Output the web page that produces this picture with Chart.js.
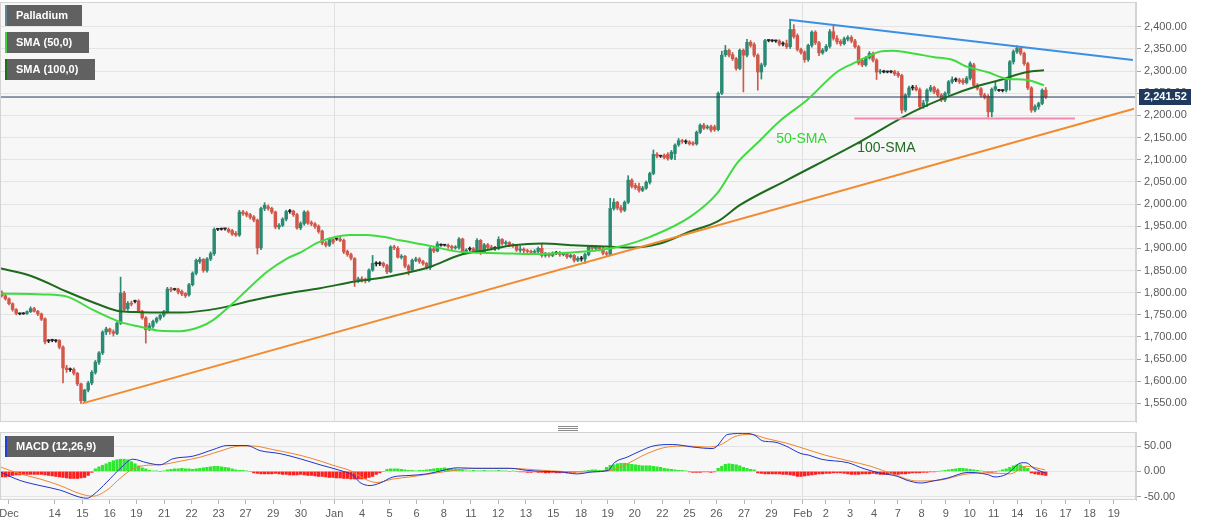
<!DOCTYPE html>
<html lang="en">
<head>
<meta charset="UTF-8">
<title>Palladium</title>
<style>
body { margin: 0; background: #fff; }
#wrap { position: relative; width: 1207px; height: 526px; }
#mainBox { position: absolute; left: 0; top: 0; width: 1207px; height: 426px; }
#macdBox { position: absolute; left: 0; top: 426px; width: 1207px; height: 100px; }
</style>
</head>
<body>
<div id="wrap">
  <div id="mainBox"><canvas id="mainChart"></canvas></div>
  <div id="macdBox"><canvas id="macdChart"></canvas></div>
</div>
<script src="https://cdn.jsdelivr.net/npm/chart.js"></script>
<script>
// 4h candles, index 0 = first candle on the left
const opens = [
1800,1793,1786,1775,1762,1753,1752,1753,1757,1764,
1758,1752,1741,1691,1692,1692,1692,1677,1630,1626,
1627,1618,1594,1556,1580,1596,1620,1643,1664,1711,
1718,1712,1708,1731,1799,1764,1776,1780,1781,1758,
1743,1718,1724,1735,1742,1749,1757,1808,1807,1808,
1803,1798,1795,1818,1844,1870,1875,1850,1876,1888,
1943,1943,1944,1943,1940,1934,1930,1982,1980,1976,
1971,1964,1901,1990,1994,1990,1982,1948,1952,1966,
1983,1984,1976,1946,1956,1982,1958,1955,1950,1939,
1912,1907,1920,1921,1921,1918,1893,1886,1877,1828,
1831,1829,1827,1851,1866,1865,1866,1861,1847,1903,
1900,1880,1882,1860,1851,1873,1876,1870,1866,1857,
1899,1894,1908,1907,1907,1904,1901,1902,1921,1893,
1898,1899,1892,1918,1892,1908,1903,1900,1900,1920,
1911,1913,1908,1906,1896,1898,1895,1893,1891,1893,
1900,1884,1887,1884,1889,1890,1886,1888,1881,1884,
1873,1877,1876,1886,1903,1900,1902,1898,1889,1887,
1990,2004,1992,1986,2004,2054,2042,2040,2031,2036,
2049,2069,2112,2108,2110,2112,2103,2114,2134,2143,
2141,2140,2138,2136,2162,2178,2172,2175,2174,2168,
2250,2337,2347,2337,2328,2306,2347,2336,2365,2360,
2336,2298,2314,2369,2369,2368,2368,2361,2362,2355,
2394,2380,2349,2343,2326,2358,2388,2364,2341,2347,
2356,2389,2374,2367,2362,2372,2376,2368,2355,2324,
2314,2330,2340,2325,2298,2299,2298,2299,2299,2295,
2290,2212,2246,2262,2263,2258,2222,2232,2257,2263,
2257,2246,2235,2250,2276,2281,2280,2279,2274,2284,
2314,2268,2260,2246,2243,2208,2259,2257,2256,2257,
2281,2321,2344,2352,2340,2317,2262,2212,2220,2227,2257
];
const highs = [
1804,1796,1788,1777,1764,1754,1755,1759,1768,1767,
1760,1754,1743,1694,1695,1694,1694,1680,1636,1630,
1630,1620,1596,1582,1600,1624,1647,1667,1714,1722,
1720,1716,1734,1835,1803,1780,1781,1783,1784,1760,
1746,1731,1738,1745,1751,1760,1812,1812,1810,1810,
1806,1800,1821,1847,1876,1880,1877,1879,1892,1946,
1945,1946,1945,1946,1943,1938,1986,1986,1983,1979,
1974,1966,1993,2003,1998,1993,1984,1956,1969,1986,
1988,1986,1979,1960,1985,1985,1962,1958,1953,1941,
1916,1923,1922,1923,1925,1921,1896,1889,1879,1835,
1836,1833,1854,1884,1870,1870,1869,1864,1906,1907,
1904,1886,1884,1863,1876,1880,1879,1873,1868,1902,
1903,1915,1910,1909,1910,1907,1906,1924,1923,1899,
1903,1902,1922,1920,1911,1911,1907,1904,1926,1922,
1917,1915,1911,1909,1905,1901,1898,1896,1897,1903,
1911,1891,1890,1892,1893,1893,1891,1891,1887,1886,
1881,1882,1889,1906,1907,1906,1905,1904,1893,2013,
2012,2006,1997,2007,2064,2057,2047,2047,2040,2052,
2072,2122,2116,2110,2113,2116,2121,2136,2148,2146,
2145,2143,2141,2165,2181,2182,2178,2178,2178,2253,
2345,2358,2350,2342,2331,2350,2350,2372,2369,2364,
2339,2318,2372,2371,2371,2370,2371,2366,2370,2416,
2405,2384,2352,2346,2361,2391,2391,2367,2351,2360,
2394,2402,2380,2371,2377,2380,2380,2372,2358,2327,
2333,2344,2343,2328,2304,2302,2300,2301,2302,2299,
2293,2249,2266,2268,2268,2262,2234,2260,2268,2266,
2260,2249,2253,2279,2287,2285,2284,2283,2288,2321,
2318,2272,2263,2250,2247,2262,2276,2259,2258,2284,
2324,2348,2357,2356,2343,2320,2265,2224,2230,2260,2263
];
const lows = [
1790,1783,1772,1758,1750,1750,1751,1751,1755,1756,
1748,1737,1684,1687,1689,1688,1673,1596,1620,1622,
1614,1590,1550,1553,1576,1592,1616,1638,1660,1705,
1706,1702,1705,1728,1758,1760,1770,1777,1755,1740,
1686,1714,1720,1731,1738,1745,1754,1802,1805,1797,
1793,1789,1792,1815,1840,1866,1846,1846,1872,1884,
1940,1941,1941,1935,1929,1927,1927,1974,1971,1966,
1960,1887,1897,1985,1986,1978,1944,1943,1949,1962,
1979,1972,1943,1942,1952,1954,1951,1945,1934,1908,
1903,1904,1910,1918,1915,1888,1882,1874,1814,1823,
1824,1822,1824,1848,1860,1861,1857,1843,1845,1897,
1878,1876,1856,1840,1848,1870,1866,1862,1853,1852,
1890,1892,1905,1905,1900,1897,1898,1898,1889,1888,
1894,1890,1889,1886,1890,1899,1896,1896,1897,1907,
1907,1904,1902,1893,1891,1890,1889,1887,1888,1890,
1880,1880,1880,1881,1886,1882,1883,1877,1878,1869,
1870,1871,1866,1883,1897,1896,1894,1885,1882,1884,
1986,1987,1981,1983,2001,2036,2033,2027,2028,2033,
2045,2066,2104,2105,2102,2099,2100,2100,2130,2137,
2136,2133,2132,2133,2159,2168,2169,2163,2164,2165,
2247,2333,2332,2324,2302,2303,2253,2332,2354,2332,
2257,2282,2310,2366,2366,2365,2357,2357,2351,2351,
2374,2345,2338,2320,2322,2354,2360,2335,2338,2344,
2352,2370,2361,2357,2359,2368,2364,2352,2314,2310,
2311,2327,2321,2281,2294,2296,2296,2296,2290,2286,
2205,2208,2242,2257,2255,2214,2216,2220,2253,2249,
2242,2231,2231,2246,2272,2276,2272,2270,2271,2280,
2264,2257,2242,2237,2196,2197,2255,2254,2253,2253,
2257,2316,2340,2336,2313,2258,2207,2208,2214,2224,2238
];
const closes = [
1793,1786,1775,1762,1753,1752,1753,1757,1764,1758,
1752,1740,1689,1692,1692,1691,1677,1630,1626,1627,
1618,1594,1556,1580,1596,1620,1643,1664,1711,1718,
1712,1708,1731,1799,1762,1776,1774,1780,1758,1743,
1716,1725,1735,1742,1749,1757,1808,1806,1807,1801,
1797,1793,1818,1844,1873,1875,1850,1876,1888,1943,
1943,1943,1944,1938,1932,1930,1982,1978,1975,1970,
1964,1901,1990,1997,1990,1982,1948,1952,1966,1983,
1984,1976,1946,1956,1982,1957,1955,1949,1938,1912,
1907,1920,1914,1921,1918,1892,1886,1878,1828,1831,
1829,1827,1851,1866,1865,1866,1861,1847,1903,1901,
1880,1882,1860,1851,1873,1876,1870,1866,1858,1899,
1894,1910,1907,1907,1904,1901,1903,1921,1893,1896,
1899,1894,1918,1892,1908,1902,1900,1901,1920,1911,
1913,1908,1906,1896,1898,1895,1893,1891,1893,1900,
1884,1887,1884,1889,1890,1886,1888,1881,1884,1873,
1877,1876,1886,1903,1900,1902,1898,1889,1887,1990,
2004,1991,1986,2004,2054,2040,2037,2031,2036,2049,
2069,2112,2108,2108,2105,2103,2117,2133,2143,2141,
2140,2136,2135,2162,2178,2171,2174,2167,2168,2250,
2336,2347,2336,2328,2306,2347,2336,2365,2358,2336,
2298,2314,2369,2369,2368,2368,2361,2362,2355,2394,
2378,2349,2342,2326,2358,2388,2364,2341,2347,2356,
2389,2374,2366,2362,2373,2376,2368,2355,2318,2314,
2330,2340,2325,2298,2300,2298,2299,2298,2294,2290,
2212,2246,2262,2263,2258,2220,2228,2257,2263,2253,
2246,2235,2250,2276,2281,2280,2276,2274,2284,2317,
2268,2261,2246,2241,2208,2259,2265,2256,2256,2281,
2321,2344,2352,2340,2317,2262,2212,2220,2227,2257,2241.52
];
const lastPrice = 2241.52;

// moving averages (x = candle index)
const sma50Idx = [-0.5,11.4,18.1,25.3,32.8,38.4,43.9,49.5,55.1,58.7,64.2,68.1,73.7,79.2,82.8,88.4,96.7,101.4,105.9,110.6,118.1,127.3,138.4,147.6,157,166.2,172.6,180.1,191.2,198.7,204.2,209.8,216.2,223.7,232,236.4,240.3,243.9,247.6,253.1,258.7,264.2,268.1,273.7,279.2,284.8,289.5];
const sma50 = [1798,1796,1791,1761,1734,1723,1714,1713,1723,1738,1776,1806,1847,1877,1890,1915,1930,1930,1926,1918,1907,1892,1889,1887,1890,1896,1906,1926,1971,2024,2092,2137,2188,2235,2298,2317,2332,2344,2346,2340,2332,2325,2310,2298,2283,2280,2268];
const sma100Idx = [-0.5,8.7,18.1,27.3,32.8,38.4,49.5,60.6,69.8,79.2,88.4,98.1,105.9,118.9,127.3,134.8,142,150.3,158.7,168.1,175.3,182.8,191.2,198.7,205.1,218.1,237.6,253.1,262.6,271.7,277.3,284.8,289.5];
const sma100 = [1855,1836,1802,1772,1758,1756,1755,1765,1783,1798,1810,1825,1834,1858,1885,1896,1907,1911,1907,1904,1902,1911,1938,1960,1998,2054,2137,2208,2242,2268,2280,2298,2302];

// trend lines [start, end]
const resistIdx = [218.7, 314.2];
const resistVal = [2416, 2325];
const supportIdx = [22.4, 314.5];
const supportVal = [1550, 2215];
const floorIdx = [236.8, 298.1];
const floorVal = [2193, 2193];

// MACD (12,26,9)
const macdIdx = [-0.5,5.1,10.6,16.2,21.7,23.7,25.3,29.2,32.8,36.4,40.3,43.9,47.6,53.1,58.7,62.6,68.1,71.7,77.3,82.8,88.4,93.9,97.6,99.5,102.3,105.1,108.7,113.4,118.1,122.6,126.4,132,136.4,141.2,145.9,150.3,155.1,159.8,164.2,168.4,170.3,173.7,177.3,180.9,186.4,192,197.3,198.4,201.7,207,209.2,211.4,214.5,217.8,222,224.2,227.6,235.1,239.2,243.7,248.9,251.2,255.3,258.7,262.8,268.4,273.7,275.9,279,283.4,284.5,286.7,289.8];
const macdLine = [-1,-18,-28,-37,-51,-53,-47,-21,5,24,17,13,25,30,43,51,51,41,35,25,13,2,-8,-22,-28,-23,-11,-8,-5,2,7,6,6,6,2,0,-1,-5,-1,2,18,28,40,50,53,48,45,48,73,75,71,60,58,50,35,32,24,17,6,-3,-10,-17,-23,-19,-13,-2,-6,-11,-6,17,17,6,-3];
const signalIdx = [-0.5,5.1,10.6,16.2,21.7,25.3,29.2,32.8,36.4,40.3,43.9,49.5,55.1,60.6,66.2,69.8,75.3,80.9,86.4,92,97.6,99.5,104.2,108.7,113.4,122.6,132,141.2,150.3,159.8,168.4,173.7,179.2,184.8,190.3,195.9,199.5,203.7,208.1,212.3,217.8,222,228.7,235.1,241.4,247.8,254.2,260.9,267.3,273.7,280.1,284.5,289.8];
const signalLine = [9,-5,-15,-28,-44,-49,-37,-14,5,12,13,20,28,40,50,50,43,35,25,12,-1,-10,-22,-15,-11,-1,6,6,2,-1,1,15,35,48,50,48,52,69,73,65,56,47,32,21,10,-6,-19,-17,-6,-3,-5,10,3];
const histogram = [
-11,-11,-10,-8,-7,-7,-6,-6,-6,-6,
-6,-6,-7,-8,-9,-10,-11,-12,-13,-14,
-14,-14,-13,-12,-8,-2,5,9,12,15,
18,21,23,24,24,23,19,15,11,7,
5,2,1,1,0,1,3,4,5,5,
6,5,5,4,5,6,7,8,9,10,
10,9,8,7,5,3,2,2,1,0,
-3,-4,-5,-5,-5,-5,-4,-5,-6,-6,
-7,-7,-7,-6,-7,-8,-8,-9,-10,-10,
-11,-12,-12,-13,-13,-14,-14,-15,-15,-15,
-15,-14,-12,-10,-6,-3,0,4,5,5,
5,4,3,2,2,1,2,2,3,4,
5,6,6,7,6,5,5,4,2,1,
1,2,1,1,2,1,1,1,2,1,
1,0,1,0,-1,-1,-2,-2,-1,-2,
-2,-3,-3,-2,-3,-3,-2,-3,-2,-2,
-1,-1,1,2,3,3,2,2,8,12,
13,15,16,16,15,14,13,12,11,11,
11,10,9,8,6,5,4,3,2,2,
1,-1,-2,-2,-2,-1,-1,-2,-1,6,
10,14,15,14,13,11,8,6,4,3,
-3,-4,-5,-5,-5,-5,-5,-6,-6,-7,
-8,-10,-10,-9,-8,-7,-6,-5,-5,-4,
-4,-3,-3,-3,-4,-5,-6,-6,-6,-5,
-5,-5,-4,-5,-6,-6,-6,-5,-6,-6,
-5,-5,-4,-3,-3,-3,-2,-2,-1,-1,
0,1,2,3,4,5,6,6,5,4,
3,2,1,-1,-2,-2,-1,1,3,5,
8,11,13,13,10,6,-3,-5,-6,-7,-8
];

// date labels along the bottom
const tickText = ['Dec','14','15','16','19','21','22','23','27','29','30','Jan','4','5','6','8','11','12','13','15','18','19','20','22','25','26','27','29','Feb','2','3','4','7','8','9','10','11','14','16','17','18','19'];
const tickPos = [2,14.7,22.4,30,37.4,45.1,52.7,60.2,67.7,75.4,83.1,92.4,100.1,107.7,115.2,122.8,130.3,137.9,145.6,153.2,160.9,168.3,175.8,183.5,191,198.5,206.2,213.8,222.5,228.9,235.6,242.3,248.9,255.5,262.2,268.9,275.5,282.1,288.8,295.5,302.2,308.9];
const priceTicks = [1550,1600,1650,1700,1750,1800,1850,1900,1950,2000,2050,2100,2150,2200,2250,2300,2350,2400];
const macdTicks = [-50, 0, 50];

const X_MIN = -0.5, X_MAX = 315.06;
const FONT = '"Liberation Sans", Arial, sans-serif';
Chart.defaults.font.family = FONT;
Chart.defaults.font.size = 11;
Chart.defaults.color = '#5a5a5a';

const pts = (xs, ys) => xs.map((x, k) => ({ x: x, y: ys[k] }));
const money = v => v.toLocaleString('en-US', { minimumFractionDigits: 2, maximumFractionDigits: 2 });

function candleColor(i) {
  if (Math.abs(closes[i] - opens[i]) <= 1) return '#222222';
  return closes[i] > opens[i] ? '#2b8a72' : '#d1584a';
}

function monthGrid(ctx) {
  const t = ctx.tick;
  if (!t) return 'rgba(0,0,0,0)';
  const i = tickPos.indexOf(t.value);
  return (tickText[i] === 'Jan' || tickText[i] === 'Feb') ? '#e0e0e0' : 'rgba(0,0,0,0)';
}

// keep the plot box where the reference has it, whatever the labels need
function noPad(s) {
  s.paddingTop = 0; s.paddingBottom = 0; s.paddingLeft = 0; s.paddingRight = 0;
}

function xScale(showLabels) {
  return {
    type: 'linear', min: X_MIN, max: X_MAX, offset: false,
    afterBuildTicks: s => { s.ticks = tickPos.map(v => ({ value: v })); },
    afterFit: s => { s.height = showLabels ? 26 : 0; noPad(s); },
    ticks: {
      display: showLabels, autoSkip: false, maxRotation: 0, padding: 3,
      callback: (v, i) => tickText[i]
    },
    grid: { offset: false, color: monthGrid, drawTicks: showLabels, tickLength: 4, tickColor: '#b5b5b5' },
    border: { display: false }
  };
}

const notes = [
  { text: '50-SMA', x: 215.1, y: 2146, color: '#36d436' },
  { text: '100-SMA', x: 237.6, y: 2127, color: '#226b22' }
];
const tags = [
  { text: 'Palladium', top: 5, w: 77, strip: '#5b8792' },
  { text: 'SMA (50,0)', top: 32, w: 84, strip: '#3fd43f' },
  { text: 'SMA (100,0)', top: 59, w: 90, strip: '#1e6e1e' }
];

function tag(ctx, x, y, w, strip, text) {
  ctx.fillStyle = '#616161';
  ctx.fillRect(x, y, w, 21);
  ctx.fillStyle = strip;
  ctx.fillRect(x, y, 2, 21);
  ctx.fillStyle = '#ffffff';
  ctx.font = 'bold 11px ' + FONT;
  ctx.textBaseline = 'middle';
  ctx.textAlign = 'left';
  ctx.fillText(text, x + 11, y + 11);
}

function frame(chart) {
  const { ctx, chartArea: a } = chart;
  ctx.strokeStyle = '#d3d3d3';
  ctx.lineWidth = 1;
  ctx.strokeRect(a.left + 0.5, a.top + 0.5, a.right - a.left - 1, a.bottom - a.top - 1);
}

const mainPaint = {
  id: 'mainPaint',
  beforeDraw(chart) {
    const { ctx, chartArea: a } = chart;
    ctx.save();
    ctx.fillStyle = '#f7f7f8';
    ctx.fillRect(a.left, a.top, a.right - a.left, a.bottom - a.top);
    ctx.restore();
  },
  afterDraw(chart) {
    const { ctx, chartArea: a, scales } = chart;
    ctx.save();
    frame(chart);
    ctx.font = '14px ' + FONT;
    ctx.textBaseline = 'middle';
    notes.forEach(n => {
      ctx.fillStyle = n.color;
      ctx.fillText(n.text, scales.x.getPixelForValue(n.x), scales.y.getPixelForValue(n.y));
    });
    tags.forEach(t => tag(ctx, 5, t.top, t.w, t.strip, t.text));
    // last price tag
    const py = Math.round(scales.y.getPixelForValue(lastPrice));
    ctx.fillStyle = '#1f3a5c';
    ctx.fillRect(a.right + 3, py - 8, 52, 16);
    ctx.fillStyle = '#ffffff';
    ctx.font = 'bold 11px ' + FONT;
    ctx.fillText(money(lastPrice), a.right + 8, py);
    ctx.restore();
  }
};

new Chart(document.getElementById('mainChart'), {
  type: 'bar',
  data: {
    datasets: [
      { type: 'line', data: pts(resistIdx, resistVal), borderColor: '#3b8fe4', borderWidth: 2, pointRadius: 0, order: 1 },
      { type: 'line', data: pts(supportIdx, supportVal), borderColor: '#f28a2e', borderWidth: 2, pointRadius: 0, order: 1 },
      { type: 'line', data: pts(floorIdx, floorVal), borderColor: '#f08cb4', borderWidth: 2, pointRadius: 0, order: 1 },
      { type: 'line', data: pts(sma50Idx, sma50), borderColor: '#3fdc3f', borderWidth: 2, pointRadius: 0, cubicInterpolationMode: 'monotone', order: 2 },
      { type: 'line', data: pts(sma100Idx, sma100), borderColor: '#1e6b1e', borderWidth: 2, pointRadius: 0, cubicInterpolationMode: 'monotone', order: 3 },
      { type: 'line', data: pts([X_MIN, X_MAX], [lastPrice, lastPrice]), borderColor: '#1f3a5c', borderWidth: 1, pointRadius: 0, order: 4 },
      { data: closes.map((c, i) => ({ x: i, y: [opens[i], c] })), backgroundColor: ctx => candleColor(ctx.dataIndex),
        barThickness: 2.8, minBarLength: 1, grouped: false, order: 5 },
      { data: closes.map((c, i) => ({ x: i, y: [lows[i], highs[i]] })), backgroundColor: ctx => candleColor(ctx.dataIndex),
        barThickness: 1, grouped: false, order: 6 }
    ]
  },
  options: {
    responsive: true, maintainAspectRatio: false, animation: false, devicePixelRatio: 1,
    layout: { padding: { top: 2, bottom: 4, left: 0, right: 0 }, autoPadding: false },
    plugins: { legend: { display: false }, tooltip: { enabled: false } },
    scales: {
      x: xScale(false),
      y: {
        position: 'right', min: 1508, max: 2456,
        afterBuildTicks: s => { s.ticks = priceTicks.map(v => ({ value: v })); },
        afterFit: s => { s.width = 71; noPad(s); },
        ticks: { callback: v => money(v), padding: 3 },
        grid: { color: '#e4e4e4', tickColor: '#a8a8a8', tickLength: 5 },
        border: { color: '#d3d3d3' }
      }
    }
  },
  plugins: [mainPaint]
});

const macdPaint = {
  id: 'macdPaint',
  beforeDraw(chart) {
    const { ctx, chartArea: a } = chart;
    ctx.save();
    ctx.fillStyle = '#f7f7f8';
    ctx.fillRect(a.left, a.top, a.right - a.left, a.bottom - a.top);
    // panel handle
    ctx.strokeStyle = '#8a8a8a';
    ctx.lineWidth = 1;
    [0.5, 2.5, 4.5].forEach(y => {
      ctx.beginPath(); ctx.moveTo(558, y); ctx.lineTo(578, y); ctx.stroke();
    });
    ctx.restore();
  },
  afterDraw(chart) {
    const { ctx } = chart;
    ctx.save();
    frame(chart);
    tag(ctx, 5, 10, 109, '#2244cc', 'MACD (12,26,9)');
    ctx.restore();
  }
};

new Chart(document.getElementById('macdChart'), {
  type: 'bar',
  data: {
    datasets: [
      { type: 'line', data: pts(macdIdx, macdLine), borderColor: '#2335c8', borderWidth: 1, pointRadius: 0, cubicInterpolationMode: 'monotone', order: 1 },
      { type: 'line', data: pts(signalIdx, signalLine), borderColor: '#f0852e', borderWidth: 1, pointRadius: 0, cubicInterpolationMode: 'monotone', order: 2 },
      { data: histogram.map((h, i) => ({ x: i, y: h })), backgroundColor: ctx => (histogram[ctx.dataIndex] >= 0 ? '#2ee82e' : '#ff1f1f'),
        barThickness: 2.6, grouped: false, order: 3 }
    ]
  },
  options: {
    responsive: true, maintainAspectRatio: false, animation: false, devicePixelRatio: 1,
    layout: { padding: { top: 6, bottom: 0, left: 0, right: 0 }, autoPadding: false },
    plugins: { legend: { display: false }, tooltip: { enabled: false } },
    scales: {
      x: xScale(true),
      y: {
        position: 'right', min: -56.5, max: 77.7,
        afterBuildTicks: s => { s.ticks = macdTicks.map(v => ({ value: v })); },
        afterFit: s => { s.width = 71; noPad(s); },
        ticks: { callback: v => v.toFixed(2), padding: 3 },
        grid: { color: '#e4e4e4', tickColor: '#a8a8a8', tickLength: 5 },
        border: { color: '#d3d3d3' }
      }
    }
  },
  plugins: [macdPaint]
});
</script>
</body>
</html>
